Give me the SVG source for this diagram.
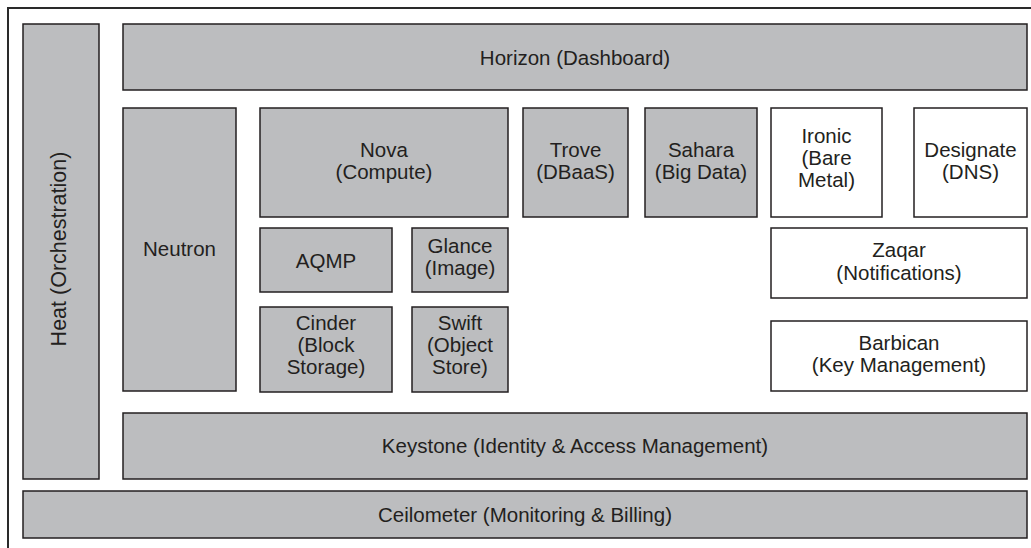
<svg xmlns="http://www.w3.org/2000/svg" width="1031" height="548" viewBox="0 0 1031 548">
<style>
.g{fill:#bcbdbf;stroke:#231f20;stroke-width:1.5}
.w{fill:#ffffff;stroke:#231f20;stroke-width:1.5}
text{font-family:"Liberation Sans",Arial,sans-serif;font-size:20.5px;fill:#231f20;text-anchor:middle}
.frame{stroke:#2a2a2a;stroke-width:2;fill:none}
</style>
<rect width="1031" height="548" fill="#ffffff"/>
<g id="frame">
<path class="frame" d="M8,548 V8 H1031"/>
</g>
<g id="heat">
<rect class="g" x="23" y="24" width="76" height="455"/>
<text transform="translate(66,249) rotate(-90)" style="font-size:21.5px">Heat (Orchestration)</text>
</g>
<g id="horizon">
<rect class="g" x="123" y="24" width="904" height="66"/>
<text x="575" y="65">Horizon (Dashboard)</text>
</g>
<g id="neutron">
<rect class="g" x="123" y="108" width="113" height="283"/>
<text x="179.5" y="256">Neutron</text>
</g>
<g id="nova">
<rect class="g" x="260" y="108" width="248" height="109"/>
<text x="384" y="157">Nova</text>
<text x="384" y="179">(Compute)</text>
</g>
<g id="trove">
<rect class="g" x="523" y="108" width="105" height="109"/>
<text x="575.5" y="157">Trove</text>
<text x="575.5" y="179">(DBaaS)</text>
</g>
<g id="sahara">
<rect class="g" x="645" y="108" width="112" height="109"/>
<text x="701" y="157">Sahara</text>
<text x="701" y="179">(Big Data)</text>
</g>
<g id="ironic">
<rect class="w" x="771" y="108" width="111" height="109"/>
<text x="826.5" y="143">Ironic</text>
<text x="826.5" y="165">(Bare</text>
<text x="826.5" y="187">Metal)</text>
</g>
<g id="designate">
<rect class="w" x="914" y="108" width="113" height="109"/>
<text x="970.5" y="157">Designate</text>
<text x="970.5" y="179">(DNS)</text>
</g>
<g id="aqmp">
<rect class="g" x="260" y="228" width="132" height="64"/>
<text x="326" y="268">AQMP</text>
</g>
<g id="glance">
<rect class="g" x="412" y="228" width="96" height="64"/>
<text x="460" y="253">Glance</text>
<text x="460" y="275">(Image)</text>
</g>
<g id="zaqar">
<rect class="w" x="771" y="228" width="256" height="70"/>
<text x="899" y="257">Zaqar</text>
<text x="899" y="280">(Notifications)</text>
</g>
<g id="cinder">
<rect class="g" x="260" y="307" width="132" height="85"/>
<text x="326" y="330">Cinder</text>
<text x="326" y="352">(Block</text>
<text x="326" y="374">Storage)</text>
</g>
<g id="swift">
<rect class="g" x="412" y="307" width="96" height="85"/>
<text x="460" y="330">Swift</text>
<text x="460" y="352">(Object</text>
<text x="460" y="374">Store)</text>
</g>
<g id="barbican">
<rect class="w" x="771" y="321" width="256" height="70"/>
<text x="899" y="350">Barbican</text>
<text x="899" y="372">(Key Management)</text>
</g>
<g id="keystone">
<rect class="g" x="123" y="413" width="904" height="66"/>
<text x="575" y="453">Keystone (Identity &amp; Access Management)</text>
</g>
<g id="ceilometer">
<rect class="g" x="23" y="491" width="1004" height="47"/>
<text x="525" y="522">Ceilometer (Monitoring &amp; Billing)</text>
</g>
<g id="connectors"/>
</svg>
